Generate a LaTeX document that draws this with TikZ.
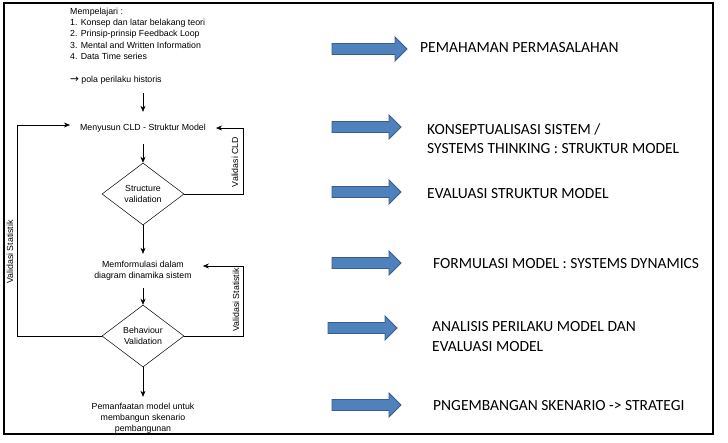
\documentclass[tikz,border=0pt]{standalone}
\usepackage{fontspec}
\setmainfont{Liberation Sans}
\newfontfamily\calfont{Carlito}
\newfontfamily\djfont{DejaVu Sans}
\usetikzlibrary{shapes.geometric,arrows.meta}
\definecolor{arrfill}{HTML}{4F81BD}
\definecolor{arredge}{HTML}{385D8A}
\newcommand{\blockarrowR}[3]{% x0, xtip, yc
  \fill[arrfill,draw=arredge,line width=0.8pt]
    (#1,#3-5.5) -- (#2-12,#3-5.5) -- (#2-12,#3-12) -- (#2,#3) -- (#2-12,#3+12)
    -- (#2-12,#3+5.5) -- (#1,#3+5.5) -- cycle;}
\begin{document}
\begin{tikzpicture}[x=1pt,y=-1pt,
  flow/.style={font=\fontsize{8.8}{11.2}\selectfont, align=center, inner ysep=0pt},
  dia/.style={diamond, draw, line width=0.5pt, inner sep=0pt, minimum width=82pt, minimum height=62pt, aspect=1.32, font=\fontsize{8.8}{11.2}\selectfont, align=center},
  conn/.style={line width=0.6pt},
  arr/.style={conn, -{Stealth[length=6pt,width=5pt]}},
  vlab/.style={rotate=90, font=\fontsize{8.8}{11}\selectfont, inner sep=0pt},
  rtext/.style={anchor=west, font=\calfont\fontsize{15.5}{19}\selectfont, align=left, inner sep=0pt}]
\useasboundingbox (0,0) rectangle (728,442);
\draw[line width=1.5pt] (4,3) rectangle (713,434);

% intro text
\node[anchor=north west, inner sep=0pt, align=left, font=\fontsize{8.8}{11.2}\selectfont] (intro) at (70,8)
  {Mempelajari :\\
   1. Konsep dan latar belakang teori\\
   2. Prinsip-prinsip Feedback Loop\\
   3. Mental and Written Information\\
   4. Data Time series\\[12pt]
   {\djfont\fontsize{10.5}{11}\selectfont →} pola perilaku historis};
\coordinate (a1) at (143,93);

\node[flow, minimum height=32pt, inner xsep=10pt] (cld) at (143,128) {Menyusun CLD - Struktur Model};
\node[dia] (sv) at (143,194) {Structure\\validation};
\node[flow, minimum height=34pt, inner xsep=11pt] (mf) at (143,271) {Memformulasi dalam\\diagram dinamika sistem};
\node[dia] (bv) at (143,336) {Behaviour\\Validation};
\node[flow, minimum height=42pt] (pm) at (143,418) {Pemanfaatan model untuk\\membangun skenario\\pembangunan};

\draw[arr] (a1) -- (cld.north);
\draw[arr] (cld.south) -- (sv.north);
\draw[arr] (sv.south) -- (mf.north);
\draw[arr] (mf.south) -- (bv.north);
\draw[arr] (bv.south) -- (pm.north);

\coordinate (r1) at (243,194);
\coordinate (r2) at (243,336);
\coordinate (l1) at (17,336);
\draw[arr] (sv.east) -- (r1) |- (cld.east);
\draw[arr] (bv.east) -- (r2) |- ([yshift=5pt]mf.east);
\draw[arr] (bv.west) -- (l1) |- ([yshift=3pt]cld.west);

\node[vlab] (lab1) at (235,162) {Validasi CLD};
\node[vlab] (lab2) at (236,300) {Validasi Statistik};
\node[vlab] (lab3) at (10,252) {Validasi Statistik};

% right side
\blockarrowR{332}{407}{49}
\blockarrowR{332}{401}{127}
\blockarrowR{332}{401}{192}
\blockarrowR{332}{401}{263}
\blockarrowR{328}{397}{328}
\blockarrowR{332}{401}{405}

\node[rtext] (t1) at (420,48) {PEMAHAMAN PERMASALAHAN};
\node[rtext] (t2) at (427,139) {KONSEPTUALISASI SISTEM /\\SYSTEMS THINKING : STRUKTUR MODEL};
\node[rtext] (t3) at (427,194) {EVALUASI STRUKTUR MODEL};
\node[rtext] (t4) at (433,264) {FORMULASI MODEL : SYSTEMS DYNAMICS};
\node[rtext, font=\calfont\fontsize{15.5}{20}\selectfont] (t5) at (432,337) {ANALISIS PERILAKU MODEL DAN\\EVALUASI MODEL};
\node[rtext] (t6) at (433,406) {PNGEMBANGAN SKENARIO -> STRATEGI};
\end{tikzpicture}
\end{document}
